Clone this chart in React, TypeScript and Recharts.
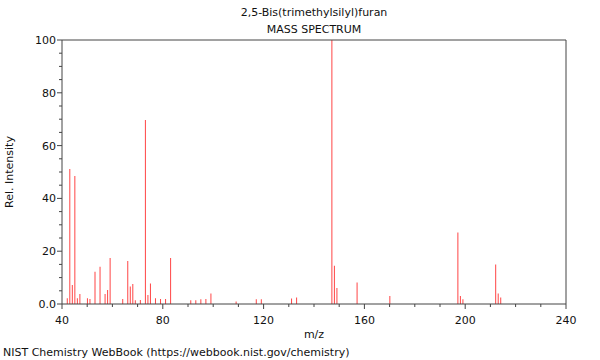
import React from "react";
import { BarChart, Bar, XAxis, YAxis, ReferenceLine } from "recharts";

// m/z values and their relative intensities
const mzValues = [
  42, 43, 44, 45, 46, 47, 50, 51, 53, 55, 57, 58, 59, 64, 66, 67, 68, 69, 71,
  73, 74, 75, 77, 79, 81, 83, 91, 93, 95, 97, 99, 109, 117, 119, 131, 133, 147,
  148, 149, 157, 170, 197, 198, 199, 212, 213, 214,
];
const intensities = [
  2.2, 51.1, 7.2, 48.5, 2.2, 3.8, 2.2, 1.9, 12.2, 14.1, 3.8, 5.3, 17.4, 1.9,
  16.3, 6.6, 7.6, 1.4, 1.5, 69.7, 3.4, 7.8, 2.2, 1.9, 1.9, 17.4, 1.4, 1.4, 1.8,
  1.9, 4.0, 0.9, 1.8, 1.8, 2.1, 2.5, 100, 14.5, 6.1, 8.1, 3.0, 27.1, 3.0, 1.8,
  15.0, 4.0, 2.5,
];
const xTicks = [40, 50, 60, 70, 80, 90, 100, 110, 120, 130, 140, 150, 160, 170, 180, 190, 200, 210, 220, 230, 240];
const yTicks = [0, 5, 10, 15, 20, 25, 30, 35, 40, 45, 50, 55, 60, 65, 70, 75, 80, 85, 90, 95, 100];

const chartTitle = "2,5-Bis(trimethylsilyl)furan";
const chartSubtitle = "MASS SPECTRUM";
const footer = "NIST Chemistry WebBook (https://webbook.nist.gov/chemistry)";

const data = mzValues.map((mz, i) => ({ mz, intensity: intensities[i] }));

const font = "'DejaVu Sans', sans-serif";
const axisColor = "#444";

const XTick = ({ x, y, payload }: any) => {
  const major = payload.value % 40 === 0;
  return (
    <g>
      <line x1={x} x2={x} y1={y} y2={y + (major ? 5 : 3)} stroke={axisColor} />
      {major && (
        <text x={x} y={y + 20} textAnchor="middle" fontSize={11} fill="#111" fontFamily={font}>
          {payload.value}
        </text>
      )}
    </g>
  );
};

const YTick = ({ x, y, payload }: any) => {
  const major = payload.value % 20 === 0;
  return (
    <g>
      <line x1={x} x2={x - (major ? 5 : 3)} y1={y} y2={y} stroke={axisColor} />
      {major && (
        <text x={x - 6} y={y + 4} textAnchor="end" fontSize={11} fill="#111" fontFamily={font}>
          {payload.value === 0 ? "0.0" : payload.value}
        </text>
      )}
    </g>
  );
};

const textStyle: React.CSSProperties = {
  position: "absolute",
  fontFamily: font,
  fontSize: 11,
  lineHeight: "14px",
  color: "#111",
  whiteSpace: "nowrap",
};

const App = () => {
  return (
    <div style={{ position: "absolute", left: 0, top: 0, width: 600, height: 360, background: "#fff" }}>
      <BarChart
        width={600}
        height={360}
        data={data}
        margin={{ top: 40, right: 34, left: 0, bottom: 0 }}
        barSize={1}
      >
        <XAxis
          dataKey="mz"
          type="number"
          domain={[40, 240]}
          ticks={xTicks}
          interval={0}
          height={56}
          tickSize={0}
          tickMargin={0}
          tickLine={false}
          axisLine={{ stroke: axisColor }}
          tick={<XTick />}
          allowDataOverflow
        />
        <YAxis
          type="number"
          domain={[0, 100]}
          ticks={yTicks}
          interval={0}
          width={62}
          tickSize={0}
          tickMargin={0}
          tickLine={false}
          axisLine={{ stroke: axisColor }}
          tick={<YTick />}
        />
        {/* frame: top and right edges */}
        <ReferenceLine y={100} stroke={axisColor} ifOverflow="visible" />
        <ReferenceLine x={240} stroke={axisColor} ifOverflow="visible" />
        <Bar dataKey="intensity" fill="#ff4545" isAnimationActive={false} />
      </BarChart>
      <div style={{ ...textStyle, left: 0, width: 628, top: 6, textAlign: "center" }}>{chartTitle}</div>
      <div style={{ ...textStyle, left: 0, width: 628, top: 23, textAlign: "center" }}>{chartSubtitle}</div>
      <div style={{ ...textStyle, left: 0, width: 628, top: 328, textAlign: "center" }}>m/z</div>
      <div
        style={{
          ...textStyle,
          left: 10,
          top: 172,
          transform: "translate(-50%, -50%) rotate(-90deg)",
        }}
      >
        Rel. Intensity
      </div>
      <div style={{ ...textStyle, left: 3, top: 346 }}>{footer}</div>
    </div>
  );
};

export default App;
